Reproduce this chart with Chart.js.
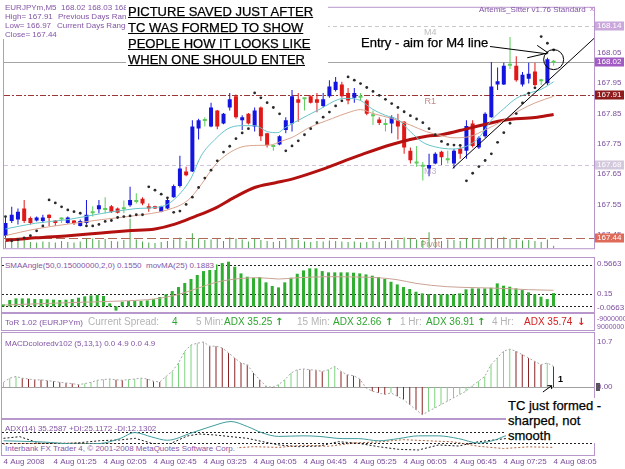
<!DOCTYPE html>
<html><head><meta charset="utf-8">
<script src="https://cdn.jsdelivr.net/npm/chart.js@4.4.1/dist/chart.umd.min.js"></script>
<style>
html,body{margin:0;padding:0;background:#fff;width:625px;height:469px;overflow:hidden;font-family:"Liberation Sans",Arial,sans-serif;}
#wrap{position:relative;width:625px;height:469px;overflow:hidden;}
canvas{position:absolute;left:0;}
.mt{position:absolute;font-size:8px;line-height:9px;color:#8455a6;white-space:nowrap;}
.big{position:absolute;font-size:13px;line-height:16px;color:#000;background:#fff;white-space:nowrap;-webkit-text-stroke:0.25px #000;}
.st{position:absolute;top:317px;font-size:10px;line-height:10px;white-space:nowrap;color:#b4b4b4;}
.gr{color:#2ea52e;} .rd{color:#d42020;}
.ar{font-family:"DejaVu Sans",sans-serif;font-weight:bold;}
</style></head><body>
<div id="wrap">
<canvas id="cMain" width="625" height="256" style="top:0"></canvas>
<canvas id="cSma" width="625" height="58" style="top:255px"></canvas>
<div style="position:absolute;left:1px;top:313px;width:592px;height:16px;border:1px solid #b898cc;"></div>
<canvas id="cMacd" width="625" height="89" style="top:331px"></canvas>
<canvas id="cAdx" width="625" height="51" style="top:418px"></canvas>

<!-- main window texts -->
<div style="position:absolute;left:2px;top:3px;width:124px;height:36px;background:#fff;"></div>
<div class="mt" style="left:5px;top:2.5px;">EURJPYm,M5&nbsp; 168.02 168.03 168.01 168.02</div>
<div class="mt" style="left:5px;top:11.5px;">High= 167.91</div>
<div class="mt" style="left:58px;top:11.5px;">Previous Days Range</div>
<div class="mt" style="left:5px;top:20.5px;">Low= 166.97</div>
<div class="mt" style="left:57px;top:20.5px;">Current Days Range=</div>
<div class="mt" style="left:5px;top:29.5px;">Close= 167.44</div>
<div class="big" style="left:126px;top:3px;width:198px;height:64px;padding:1px 2px 0 2px;text-decoration:underline;">PICTURE SAVED JUST AFTER<br>TC WAS FORMED TO SHOW<br>PEOPLE HOW IT LOOKS LIKE<br>WHEN ONE SHOULD ENTER</div>
<div class="big" style="left:360px;top:35px;padding:0 2px 9px 1px;">Entry - aim for M4 line</div>
<div class="mt" style="left:479px;top:4.5px;">Artemis_Sitter v1.76 Standard</div>
<div class="mt" style="left:590px;top:4px;color:#c070c0;">x</div>

<!-- SMAAngle -->
<div class="mt" style="left:5px;top:260.5px;background:#fff;padding-right:2px;">SMAAngle(50,0.15000000,2,0) 0.1550&nbsp; movMA(25) 0.1883</div>

<!-- ToR status -->
<div class="mt" style="left:5px;top:317.5px;">ToR 1.02 (EURJPYm)</div>
<div class="st" style="left:88px;">Current Spread:</div>
<div class="st gr" style="left:172px;">4</div>
<div class="st" style="left:196px;">5 Min:</div>
<div class="st gr" style="left:224px;">ADX 35.25</div>
<div class="st gr ar" style="left:275px;">↑</div>
<div class="st" style="left:297px;">15 Min:</div>
<div class="st gr" style="left:333px;">ADX 32.66</div>
<div class="st gr ar" style="left:385px;">↑</div>
<div class="st" style="left:400px;">1 Hr:</div>
<div class="st gr" style="left:426px;">ADX 36.91</div>
<div class="st gr ar" style="left:477px;">↑</div>
<div class="st" style="left:492px;">4 Hr:</div>
<div class="st rd" style="left:524px;">ADX 35.74</div>
<div class="st rd ar" style="left:577px;">↓</div>
<div class="mt" style="left:597px;top:313.5px;font-size:7px;">-9000000</div>
<div class="mt" style="left:597px;top:321.5px;font-size:7px;">9000000</div>

<!-- MACD / ADX -->
<div class="mt" style="left:5px;top:338.5px;">MACDcoloredv102 (5,13,1) 0.0 4.9 0.0 4.9</div>
<div class="mt" style="left:5px;top:423.5px;">ADX(14) 35.2587 +DI:25.1172 -DI:12.1302</div>
<div class="mt" style="left:5px;top:443.5px;background:#fff;padding-right:2px;">Interbank FX Trader 4, © 2001-2008 MetaQuotes Software Corp.</div>
<div class="big" style="left:506px;top:398px;line-height:15px;padding:0 30px 0 2px;">TC just formed -<br>sharped, not<br>smooth</div>
</div>

<script>
// ================= DATA =================
const opens  = [167.447,167.495,167.500,167.537,167.505,167.497,167.495,167.516,167.497,167.500,
                167.489,167.497,167.479,167.489,167.521,167.534,167.532,167.544,167.537,167.534,
                167.547,167.558,167.569,167.544,167.544,167.526,167.537,167.574,167.611,167.659,
                167.659,167.801,167.825,167.807,167.860,167.817,167.870,167.907,167.828,167.849,
                167.807,167.870,167.785,167.740,167.748,167.796,167.817,167.897,167.897,167.907,
                167.897,167.875,167.907,167.928,167.946,167.918,167.902,167.902,167.893,167.841,
                167.830,167.812,167.817,167.828,167.823,167.727,167.685,167.674,167.669,167.685,
                167.724,167.696,167.685,167.735,167.727,167.817,167.738,167.775,167.838,167.946,
                167.946,168.008,168.008,167.946,167.965,167.989,167.957,167.950,168.018];
const highs  = [167.510,167.542,167.537,167.565,167.510,167.510,167.516,167.518,167.499,167.507,
                167.510,167.499,167.500,167.565,167.544,167.565,167.574,167.548,167.540,167.563,
                167.608,167.587,167.574,167.553,167.546,167.546,167.568,167.616,167.711,167.674,
                167.828,167.833,167.838,167.886,167.862,167.852,167.918,167.913,167.844,167.852,
                167.870,167.873,167.787,167.748,167.778,167.838,167.928,167.918,167.902,167.910,
                167.918,167.918,167.960,167.971,167.955,167.934,167.934,167.918,167.897,167.860,
                167.838,167.833,167.844,167.849,167.825,167.738,167.743,167.690,167.717,167.722,
                167.727,167.727,167.733,167.743,167.828,167.828,167.775,167.854,168.020,168.002,
                168.018,168.103,168.039,167.987,168.018,168.018,167.965,168.034,168.027];
const lows   = [167.440,167.489,167.484,167.489,167.484,167.494,167.489,167.479,167.479,167.489,
                167.486,167.482,167.477,167.484,167.510,167.521,167.521,167.522,167.520,167.521,
                167.542,167.553,167.547,167.526,167.535,167.524,167.534,167.572,167.606,167.643,
                167.657,167.764,167.807,167.805,167.798,167.815,167.860,167.833,167.796,167.814,
                167.791,167.759,167.738,167.727,167.745,167.785,167.791,167.823,167.860,167.883,
                167.854,167.870,167.902,167.923,167.902,167.881,167.886,167.891,167.844,167.812,
                167.812,167.791,167.785,167.764,167.717,167.685,167.674,167.629,167.643,167.683,
                167.680,167.685,167.669,167.701,167.701,167.738,167.733,167.770,167.836,167.928,
                167.944,167.997,167.955,167.939,167.949,167.939,167.944,167.944,168.008];
const closes = [167.489,167.516,167.526,167.495,167.489,167.507,167.507,167.505,167.489,167.500,
                167.507,167.489,167.495,167.516,167.521,167.547,167.532,167.526,167.523,167.534,
                167.565,167.558,167.553,167.537,167.537,167.544,167.565,167.611,167.669,167.646,
                167.807,167.828,167.825,167.870,167.807,167.849,167.897,167.838,167.838,167.817,
                167.860,167.775,167.745,167.740,167.775,167.828,167.907,167.886,167.897,167.886,
                167.886,167.897,167.939,167.955,167.907,167.893,167.918,167.902,167.849,167.841,
                167.819,167.812,167.838,167.807,167.738,167.696,167.685,167.674,167.680,167.717,
                167.706,167.696,167.727,167.717,167.809,167.743,167.770,167.849,167.939,167.957,
                168.008,168.008,167.960,167.978,167.981,167.944,167.957,168.029,168.018];
const volumes = [30,28,32,36,26,24,28,26,24,30, 26,24,28,40,40,34,38,30,28,34,
                 122,36,28,24,22,26,30,36,44,30, 62,40,34,36,38,30,44,40,36,28,
                 38,34,30,26,30,36,40,34,28,26, 30,28,32,30,28,26,28,24,26,30,
                 26,30,32,34,44,40,36,34,66,40, 30,36,34,30,40,38,36,40,44,40,
                 48,38,36,32,34,30,26,36,10];
const parabolicSar = [167.510,167.430,167.434,167.440,167.447,167.463,167.479,167.565,167.555,167.542,
                167.532,167.526,167.521,167.479,167.479,167.484,167.494,167.497,167.507,167.510,
                167.512,167.516,167.516,167.608,167.597,167.584,167.572,167.524,167.528,167.550,
                167.574,167.606,167.637,167.663,167.694,167.723,167.742,167.767,167.786,167.800,
                167.918,167.902,167.886,167.870,167.849,167.727,167.743,167.760,167.780,167.800,
                167.820,167.838,167.855,167.875,167.892,167.971,167.960,167.949,167.936,167.923,
                167.910,167.897,167.883,167.870,167.856,167.843,167.832,167.820,167.800,167.780,
                167.758,167.748,167.746,167.745,167.628,167.653,167.675,167.695,167.717,167.755,
                167.787,167.818,167.850,167.885,167.917,167.935,168.104,168.082,168.060];
// moving averages: [bar, price]
const maFast = [[0,167.469],[4.8,167.488],[10,167.500],[15.4,167.520],[20.8,167.536],[24,167.540],[26,167.550],
                [28.2,167.590],[29.8,167.637],[31.4,167.710],[33.6,167.764],[35.7,167.800],[37.8,167.810],[40,167.810],
                [42.1,167.790],[43.7,167.787],[44.8,167.802],[46.4,167.821],[48.5,167.844],[50.6,167.866],[53.5,167.897],
                [55,167.900],[57,167.893],[58.8,167.866],[61,167.844],[63,167.830],[65,167.790],[67,167.755],[69,167.740],
                [71.8,167.733],[74,167.742],[76,167.770],[78,167.828],[80,167.866],[82,167.900],[84,167.917],[86,167.930],[88,167.955]];
const maMid  = [[0,167.447],[4.8,167.469],[10,167.485],[15.4,167.500],[20.8,167.513],[26,167.532],[29.3,167.564],
                [31.4,167.615],[33.6,167.679],[35.7,167.717],[37.8,167.739],[40.5,167.745],[42.5,167.746],[44.2,167.758],
                [46.4,167.775],[48.5,167.801],[52.5,167.834],[55,167.853],[57,167.863],[59,167.850],[62,167.834],
                [65,167.812],[67.6,167.790],[70,167.777],[72,167.770],[74.5,167.774],[77,167.796],[80,167.828],
                [82.5,167.860],[85,167.885],[88,167.907]];
const maSlow = [[0,167.431],[4.8,167.440],[10.1,167.447],[15.4,167.456],[19.7,167.463],[24,167.469],[27.2,167.485],
                [30.4,167.510],[33.6,167.537],[36.8,167.574],[40,167.606],[43.2,167.621],[46.4,167.636],[50.6,167.664],
                [56.7,167.711],[62,167.748],[67.6,167.775],[70,167.780],[74.5,167.802],[80,167.828],[85,167.837],[88,167.847]];
const trendLine = [[71.8,167.669],[94.48,168.098]];
const pivotLevels = [168.14, 167.91, 167.68, 167.44];
const pivotNames  = ['M4','R1','M3','Pivot'];
const bidPrice = 168.02;
const priceTicks = [167.45,167.55,167.65,167.75,167.85,167.95,168.05];
const priceBoxes = [168.14, 168.02, 167.91, 167.68, 167.44];
const timeTickBars = [0,8,16,24,32,40,48,56,64,72,80,88];
const timeTickLabels = ['4 Aug 2008','4 Aug 01:25','4 Aug 02:05','4 Aug 02:45','4 Aug 03:25','4 Aug 04:05',
                        '4 Aug 04:45','4 Aug 05:25','4 Aug 06:05','4 Aug 06:45','4 Aug 07:25','4 Aug 08:05'];
const entryArrow = [[[77.5,168.072],[86.96,168.047]],[[83.76,168.034],[87.12,168.05]],[[85.36,168.075],[87.12,168.05]]];
const entryCircle = [88.0, 168.028];

const smaAngle = [0.023,0.074,0.093,0.093,0.093,0.085,0.085,0.082,0.078,0.074,
                  0.078,0.085,0.101,0.117,0.128,0.132,0.121,0.035,-0.05,0.054,
                  0.062,0.062,0.062,0.070,0.085,0.109,0.140,0.179,0.226,0.273,
                  0.320,0.367,0.413,0.460,0.491,0.507,0.523,0.464,0.386,0.347,
                  0.335,0.343,0.281,0.238,0.222,0.281,0.335,0.382,0.421,0.445,
                  0.445,0.413,0.398,0.398,0.398,0.398,0.394,0.386,0.374,0.359,
                  0.343,0.320,0.288,0.257,0.226,0.203,0.171,0.152,0.144,0.140,
                  0.140,0.140,0.140,0.152,0.199,0.210,0.210,0.210,0.218,0.269,
                  0.242,0.230,0.210,0.191,0.164,0.140,0.113,0.085,0.155];
const smaAngleMA = [[0,0.015],[10,0.042],[20,0.066],[24,0.085],[28,0.140],[31,0.210],[34,0.281],[38,0.327],
                    [41,0.335],[44,0.320],[47,0.335],[52,0.347],[57,0.343],[60,0.335],[63,0.312],[66,0.269],
                    [71,0.230],[76,0.218],[80,0.210],[84,0.195],[88,0.188]];
const smaLevels = [0.48, 0.15, 0];
const smaAxis = [[0.5663,'0.5663','top'],[0.15,'0.15','mid'],[-0.0663,'-0.0663','bottom']];

const macd = [1.1,2.1,2.5,2.1,1.9,1.7,1.7,1.5,1.35,1.1,
              0.95,0.8,0.55,0.8,1.1,1.6,1.75,1.9,1.7,1.6,
              1.75,1.9,2.1,1.9,1.35,1.2,2.5,3.7,5.7,8.5,
              10.0,10.4,10.7,9.7,9.7,9.3,8.1,6.9,5.7,5.3,
              3.3,1.7,0.2,-0.1,0.55,1.7,3.3,4.1,4.3,4.1,
              4.0,3.7,4.1,4.9,3.7,2.9,2.7,1.9,-0.2,-1.0,
              -1.4,-1.8,-1.4,-2.2,-3.0,-4.2,-5.4,-6.6,-5.8,-5.0,
              -4.2,-3.4,-2.6,-1.8,-1.0,0.3,1.35,2.5,5.3,6.9,
              8.5,9.0,8.5,7.7,6.9,6.1,5.3,5.7,4.9];
const macdAxis = [[10.7,'10.7','mid'],[0,'0.00','mid']];

const adxLine = [[0,24],[6,22],[12,18],[15.4,19],[18.6,28],[21,39],[23.7,31],[26.2,25],[30,38],[33.2,50],[36.4,59],
                 [39,50],[41.5,38],[44,32],[47.9,33],[50.5,32],[54.3,28],[56.8,28],[60,24],[63.2,28],[66.4,33],
                 [69.6,33],[72.8,28],[76,20],[78.5,25],[80.8,34],[84,35],[88,35.3]];
const plusDI  = [[0,28.5],[2.6,31.5],[5.8,19.4],[9,18.2],[12.2,20.6],[15.4,24.2],[18.6,25.5],[21.1,28.5],[23.7,19.4],
                 [26.2,16.4],[29.4,32.7],[31.3,36.4],[33.9,34.5],[36.4,31.5],[39,28.5],[41.5,22.4],[44.1,16.4],[47.3,13.3],
                 [50.5,14.5],[53.6,22.4],[56.8,19.4],[60,13.3],[63.2,8.5],[66.4,7.3],[69.6,16.4],[72.8,14.5],[76,22.4],
                 [78.5,25.5],[80.7,28.5],[84,27],[88,25.1]];
const minusDI = [[0,18],[10,20],[20,17],[30,10],[37,11],[40,13.3],[44,12],[48,16],[52,14],[56,20],[60,22],[64,26],
                 [68,24],[72,22],[76,14],[80,10],[84,13],[88,12.1]];
const adxLevels = [40, 20];

// ================= STYLE / HELPERS =================
Chart.defaults.font.family = '"Liberation Sans", Arial, sans-serif';
const X_MIN = -0.24, X_MAX = 94.48;
const PURPLE = '#7b4d9c', FRAME = '#b898cc';
const BLUE = '#1414e0', RED = '#e01818', DOJI = '#5ccc5c';
const candleColors = closes.map((c,i)=> c>opens[i] ? BLUE : (c<opens[i] ? RED : DOJI));
const macdColors = macd.map((v,i)=> (i===0 || v>macd[i-1]) ? '#7ed37e' : '#8c2323');
const pts = a => a.map(([x,y])=>({x,y}));
const idx = a => a.map((y,x)=>({x,y}));
const noGrid = {display:false, drawTicks:false, tickLength:0};
const xHidden = () => ({type:'linear', min:X_MIN, max:X_MAX, offset:false, display:false, grid:noGrid});
const yRight = (min,max) => ({type:'linear', position:'right', min, max, grid:noGrid, border:{display:false},
                              ticks:{display:false}, afterFit(s){ s.width = 31; }});
const baseOpts = (pad) => ({responsive:false, animation:false, devicePixelRatio:1,
  layout:{padding:pad}, plugins:{legend:{display:false}, tooltip:{enabled:false}}, events:[]});

const framePlugin = {id:'frame', afterDraw(chart){
  const {ctx, chartArea:a} = chart; ctx.save(); ctx.strokeStyle = FRAME; ctx.lineWidth = 1;
  ctx.strokeRect(a.left-0.5, a.top-0.5, a.right-a.left+1, a.bottom-a.top+1); ctx.restore(); }};

function hLine(chart, v, color, dash){
  const {ctx, chartArea:a, scales:{y}} = chart;
  const py = Math.round(y.getPixelForValue(v)) + 0.5;
  ctx.save(); ctx.strokeStyle = color; ctx.lineWidth = 1; ctx.setLineDash(dash||[]);
  ctx.beginPath(); ctx.moveTo(a.left, py); ctx.lineTo(a.right, py); ctx.stroke(); ctx.restore();
  return py;
}
const axisTextPlugin = {id:'axisText', afterDraw(chart, args, opts){
  const {ctx, chartArea:a, scales:{y}} = chart;
  ctx.save(); ctx.font = '8px "Liberation Sans"'; ctx.fillStyle = PURPLE; ctx.textAlign = 'left';
  (opts.items||[]).forEach(([v,t,pos])=>{
    const py = y.getPixelForValue(v);
    if (pos==='top'){ ctx.textBaseline='top'; ctx.fillText(t, a.right+3, py+2); }
    else if (pos==='bottom'){ ctx.textBaseline='bottom'; ctx.fillText(t, a.right+3, py); }
    else { ctx.textBaseline='middle'; ctx.fillText(t, a.right+3, py); }
  });
  ctx.restore(); }};

// ================= MAIN PRICE WINDOW =================
const pivotStyles = [
  {c:'#c9c9c9', d:[4,3], t:'#bdbdbd'},
  {c:'#9c3636', d:[6,2,2,2], t:'#c48888'},
  {c:'#d2c3dc', d:[4,3], t:'#c5b5cf'},
  {c:'#b06858', d:[9,4], t:'#c89482'}];
const boxColors = ['#caa8dc','#a15bc2','#8e1c1c','#d3c8dc','#df6a5a'];
const mainPlugin = {id:'mainDeco',
  beforeDatasetsDraw(chart){
    const {ctx, scales:{x}} = chart;
    pivotLevels.forEach((v,i)=>{
      const s = pivotStyles[i];
      const py = hLine(chart, v, s.c, s.d);
      ctx.save(); ctx.font = '9px "Liberation Sans"'; ctx.fillStyle = s.t; ctx.textAlign='center'; ctx.textBaseline='top';
      ctx.fillText(pivotNames[i], x.getPixelForValue(68.2), py+1.5); ctx.restore();
    });
    hLine(chart, bidPrice, '#a4a4a4');
  },
  afterDatasetsDraw(chart){
    const {ctx, scales:{x,y}} = chart;
    ctx.save(); ctx.strokeStyle = '#000'; ctx.lineWidth = 1;
    entryArrow.forEach(([p,q])=>{ ctx.beginPath(); ctx.moveTo(x.getPixelForValue(p[0]), y.getPixelForValue(p[1]));
      ctx.lineTo(x.getPixelForValue(q[0]), y.getPixelForValue(q[1])); ctx.stroke(); });
    ctx.beginPath(); ctx.arc(x.getPixelForValue(entryCircle[0]), y.getPixelForValue(entryCircle[1]), 10, 0, Math.PI*2); ctx.stroke();
    ctx.restore();
  },
  afterDraw(chart){
    const {ctx, chartArea:a, scales:{y}} = chart;
    ctx.save(); ctx.font = '8px "Liberation Sans"'; ctx.textBaseline='middle'; ctx.textAlign='left';
    priceBoxes.forEach((v,i)=>{
      const py = Math.round(y.getPixelForValue(v));
      ctx.fillStyle = boxColors[i]; ctx.fillRect(a.right+1, py-4.5, 29, 9);
      ctx.fillStyle = '#fff'; ctx.fillText(v.toFixed(2), a.right+3, py);
    });
    ctx.restore();
  }};

new Chart(document.getElementById('cMain'), {
  type:'bar',
  data:{datasets:[
    {type:'line', data:pts(trendLine), borderColor:'#000', borderWidth:1, pointRadius:0, order:0},
    {type:'line', data:idx(parabolicSar), showLine:false, pointRadius:1.4, pointBackgroundColor:'#2a2a2a', pointBorderWidth:0, order:1},
    {type:'line', data:pts(maFast), borderColor:'#66c4c8', borderWidth:1, pointRadius:0, cubicInterpolationMode:'monotone', order:2},
    {type:'line', data:pts(maMid), borderColor:'#d9a38e', borderWidth:1, pointRadius:0, cubicInterpolationMode:'monotone', order:3},
    {type:'line', data:pts(maSlow), borderColor:'#b31010', borderWidth:3, pointRadius:0, cubicInterpolationMode:'monotone', order:4},
    {data:opens.map((o,i)=>({x:i, y:[o, closes[i]]})), backgroundColor:candleColors, maxBarThickness:4, minBarLength:2, grouped:false, order:5},
    {data:lows.map((l,i)=>({x:i, y:[l, highs[i]]})), backgroundColor:candleColors, maxBarThickness:1, grouped:false, order:6},
    {data:idx(volumes), backgroundColor:'#4aa64a', maxBarThickness:1, grouped:false, yAxisID:'yv', order:7}
  ]},
  options:Object.assign(baseOpts({left:2, top:3, bottom:3, right:0}), {
    scales:{
      x: xHidden(),
      y: {type:'linear', position:'right', min:167.4056, max:168.199,
          afterBuildTicks(s){ s.ticks = priceTicks.map(v=>({value:v})); },
          ticks:{font:{size:8}, color:PURPLE, padding:3, callback:v=>Number(v).toFixed(2)},
          grid:noGrid, border:{display:false}, afterFit(s){ s.width = 31; }},
      yv: {type:'linear', display:false, min:0, max:1000}
    }}),
  plugins:[mainPlugin, framePlugin]
});

// ================= SMAAngle WINDOW =================
new Chart(document.getElementById('cSma'), {
  type:'bar',
  data:{datasets:[
    {type:'line', data:pts(smaAngleMA), borderColor:'#c9a294', borderWidth:1, pointRadius:0, cubicInterpolationMode:'monotone', order:0},
    {data:idx(smaAngle), backgroundColor:'#2fae2f', maxBarThickness:3, grouped:false, order:1}
  ]},
  options:Object.assign(baseOpts({left:2, top:3, bottom:1, right:0}), {
    scales:{x:xHidden(), y:yRight(-0.0663, 0.5663)},
    plugins:{legend:{display:false}, tooltip:{enabled:false}, axisText:{items:smaAxis}}}),
  plugins:[{id:'smaLv', beforeDatasetsDraw(c){ smaLevels.forEach(v=>hLine(c, v, '#222', [2,2])); }}, axisTextPlugin, framePlugin]
});

// ================= MACD WINDOW =================
new Chart(document.getElementById('cMacd'), {
  type:'bar',
  data:{datasets:[
    {type:'line', data:idx(macd), borderColor:'#a8a8a8', borderWidth:1, borderDash:[2,2], pointRadius:0, order:0},
    {data:idx(macd), backgroundColor:macdColors, maxBarThickness:1, grouped:false, order:1}
  ]},
  options:Object.assign(baseOpts({left:2, top:2, bottom:2, right:0}), {
    scales:{x:xHidden(), y:yRight(-7.38, 12.84)},
    plugins:{legend:{display:false}, tooltip:{enabled:false}, axisText:{items:macdAxis}}}),
  plugins:[{id:'macdDeco',
    beforeDatasetsDraw(c){ hLine(c, 0, '#a0a0a0'); },
    afterDraw(c){
      const {ctx, chartArea:a, scales:{x,y}} = c;
      ctx.save(); ctx.strokeStyle='#000'; ctx.lineWidth=1;
      const P = (b,v)=>[x.getPixelForValue(b), y.getPixelForValue(v)];
      const s = P(86.3,-1.2), e = P(87.7,0.3), h1 = P(87.0,0.3), h2 = P(87.7,-0.5);
      ctx.beginPath(); ctx.moveTo(...s); ctx.lineTo(...e); ctx.moveTo(...h1); ctx.lineTo(...e); ctx.lineTo(...h2); ctx.stroke();
      ctx.fillStyle='#000'; ctx.font='bold 9px "Liberation Sans"'; ctx.textAlign='left'; ctx.textBaseline='middle';
      ctx.fillText('1', ...P(88.7,1.7));
      ctx.fillStyle='#555'; ctx.fillRect(a.right+2, y.getPixelForValue(0)-4, 4, 8);
      ctx.restore();
    }}, axisTextPlugin, framePlugin]
});

// ================= ADX WINDOW (with time axis) =================
new Chart(document.getElementById('cAdx'), {
  type:'line',
  data:{datasets:[
    {data:pts(adxLine), borderColor:'#3f9c9c', borderWidth:1, pointRadius:0, cubicInterpolationMode:'monotone'},
    {data:pts(plusDI), borderColor:'#1a1a1a', borderWidth:1, borderDash:[2,2], pointRadius:0},
    {data:pts(minusDI), borderColor:'#b0603a', borderWidth:1, borderDash:[2,2], pointRadius:0}
  ]},
  options:Object.assign(baseOpts({left:2, top:2, bottom:0, right:0}), {
    scales:{
      x:{type:'linear', min:X_MIN, max:X_MAX, offset:false, position:'bottom',
         afterBuildTicks(s){ s.ticks = timeTickBars.map(v=>({value:v})); },
         ticks:{autoSkip:false, maxRotation:0, align:'start', padding:2, font:{size:8}, color:PURPLE,
                callback:(v,i)=>timeTickLabels[i]},
         grid:noGrid, border:{display:false}, afterFit(s){ s.height = 14; }},
      y: yRight(-1.8, 61.8)
    }}),
  plugins:[{id:'adxLv', beforeDatasetsDraw(c){ adxLevels.forEach(v=>hLine(c, v, '#222', [2,2])); }}, framePlugin]
});
</script>
</body></html>
